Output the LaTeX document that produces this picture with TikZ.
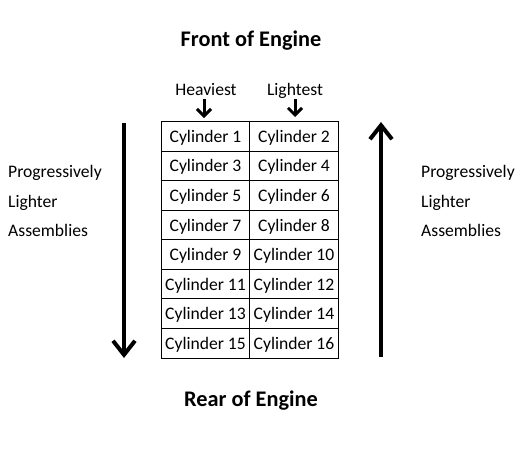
\documentclass[tikz,border=0pt]{standalone}
\usepackage{fontspec}
\setmainfont{Carlito}
\usetikzlibrary{arrows.meta,positioning}

\begin{document}
\begin{tikzpicture}[x=1pt,y=-1pt,>={Straight Barb[length=14pt,width=22pt]}]
            \tikzstyle{cell}=[rectangle,draw=black,line width=0.9pt,minimum width=88.5pt,minimum height=29.6pt,inner sep=0pt,text depth=0pt,font=\fontsize{17.6}{20}\selectfont]
            \tikzstyle{title}=[text depth=0pt,font=\bfseries\fontsize{22.3}{26}\selectfont]
            \tikzstyle{label}=[text depth=0pt,font=\fontsize{17.6}{20}\selectfont]
            \tikzstyle{side}=[align=left,anchor=west,inner sep=0pt,font=\fontsize{17.6}{29.5}\selectfont]
            \tikzstyle{bigarrow}=[line width=4pt]
            \tikzstyle{smallarrow}=[line width=3pt,>={Straight Barb[length=7pt,width=14pt]}]
            \useasboundingbox (0,0) rectangle (525,450);
            \begin{scope}
            % table of cylinders
            \foreach \r in {0,...,7} {
                \pgfmathtruncatemacro{\odd}{2*\r+1}
                \pgfmathtruncatemacro{\even}{2*\r+2}
                \node[cell] (c\odd) at (205.5,136.3+29.56*\r) {Cylinder \odd};
                \node[cell] (c\even) at (294,136.3+29.56*\r) {Cylinder \even};
            }
            \node[title] (front) at (251,39) {Front of Engine};
            \node[title] (rear) at (251,399) {Rear of Engine};
            \node[label] (heavy) at (206,89) {Heaviest};
            \node[label] (light) at (295,89) {Lightest};
            \coordinate (h1) at (204,99);
            \coordinate (h2) at (204,118);
            \coordinate (l1) at (295,99);
            \coordinate (l2) at (295,117);
            \draw[->,smallarrow] (h1) -- (h2);
            \draw[->,smallarrow] (l1) -- (l2);
            % side texts
            \node[side] (lefttxt) at (8,201) {Progressively\\Lighter\\Assemblies};
            \node[side] (righttxt) at (421,201) {Progressively\\Lighter\\Assemblies};
            % long arrows
            \coordinate (la) at (124,123);
            \coordinate (lb) at (124,358);
            \coordinate (ra) at (381,357);
            \coordinate (rb) at (381,122);
            \draw[->,bigarrow] (la) -- (lb);
            \draw[->,bigarrow] (ra) -- (rb);
            \end{scope}
        \end{tikzpicture}
\end{document}
